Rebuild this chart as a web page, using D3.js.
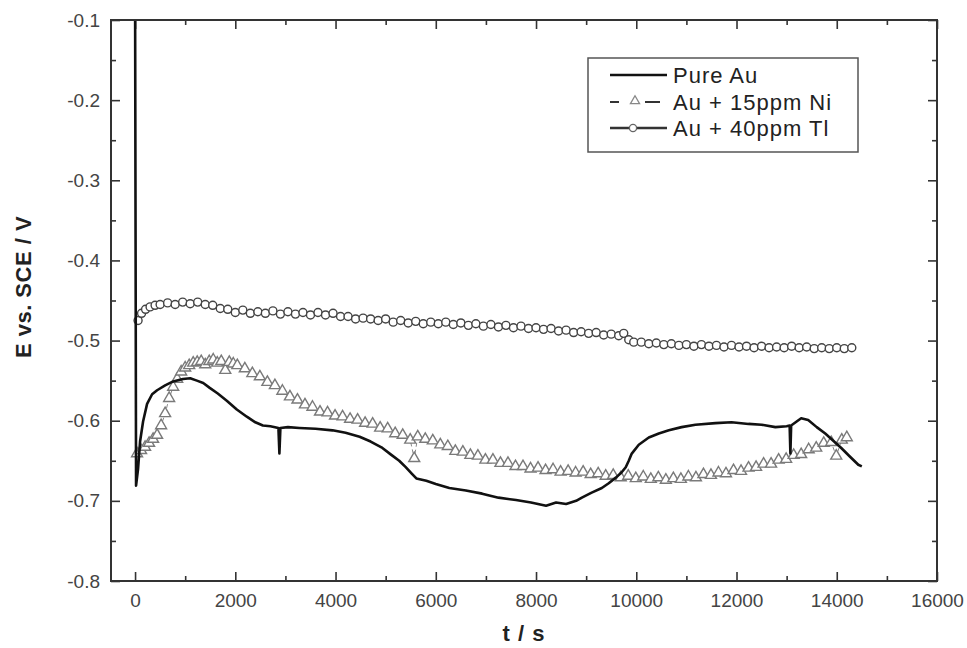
<!DOCTYPE html>
<html>
<head>
<meta charset="utf-8">
<script src="https://cdn.jsdelivr.net/npm/d3@7"></script>
<style>
  body { margin: 0; background: #fff; }
  text { font-family: "Liberation Sans", Arial, sans-serif; }
</style>
</head>
<body>
<svg width="967" height="648"></svg>
<script>
// [t (s), E (V)]
const pureAu = [
  [0, -0.05], [20, -0.681], [60, -0.66], [100, -0.626], [160, -0.601], [240, -0.579],
  [340, -0.567], [440, -0.562], [600, -0.556], [760, -0.551], [955, -0.548], [1100, -0.547],
  [1234, -0.550], [1360, -0.553], [1490, -0.559], [1650, -0.566], [1830, -0.575], [2030, -0.586],
  [2230, -0.595], [2400, -0.602], [2550, -0.606], [2700, -0.607], [2860, -0.609], [2880, -0.641],
  [2900, -0.609], [3050, -0.608], [3280, -0.609], [3600, -0.610], [3940, -0.612], [4200, -0.615],
  [4480, -0.620], [4700, -0.626], [4935, -0.634], [5100, -0.642], [5270, -0.650], [5400, -0.658],
  [5520, -0.666], [5612, -0.672], [5811, -0.675], [6000, -0.679], [6270, -0.684], [6600, -0.687],
  [6925, -0.691], [7250, -0.696], [7600, -0.699], [7900, -0.702], [8200, -0.706], [8400, -0.702],
  [8600, -0.704], [8800, -0.700], [8915, -0.696], [9100, -0.690], [9313, -0.684], [9450, -0.678],
  [9592, -0.671], [9700, -0.665], [9790, -0.658], [9850, -0.650], [9910, -0.641], [10050, -0.630],
  [10250, -0.621], [10450, -0.616], [10650, -0.612], [10905, -0.608], [11180, -0.605], [11580, -0.603],
  [11900, -0.602], [12240, -0.604], [12500, -0.605], [12775, -0.608], [13000, -0.607], [13060, -0.606],
  [13075, -0.641], [13090, -0.606], [13200, -0.601], [13290, -0.597], [13430, -0.599], [13600, -0.608],
  [13770, -0.616], [13930, -0.625], [14090, -0.634], [14250, -0.644], [14430, -0.655], [14500, -0.657]
];

const auNi = [
  [40, -0.641], [120, -0.637], [200, -0.633], [280, -0.628], [360, -0.623], [440, -0.618],
  [520, -0.606], [600, -0.591], [680, -0.572], [760, -0.558], [840, -0.548], [920, -0.539],
  [1000, -0.534], [1080, -0.531], [1160, -0.528], [1240, -0.527], [1320, -0.526], [1400, -0.530],
  [1480, -0.526], [1560, -0.524], [1640, -0.528], [1720, -0.526], [1800, -0.537], [1880, -0.527],
  [1960, -0.529], [2040, -0.531], [2190, -0.535], [2340, -0.541], [2490, -0.545], [2640, -0.552],
  [2790, -0.556], [2940, -0.563], [3090, -0.570], [3240, -0.574], [3390, -0.580], [3540, -0.583],
  [3690, -0.589], [3840, -0.590], [3990, -0.594], [4140, -0.595], [4290, -0.598], [4440, -0.599],
  [4590, -0.603], [4740, -0.604], [4890, -0.609], [5040, -0.610], [5190, -0.616], [5340, -0.618],
  [5490, -0.624], [5570, -0.647], [5640, -0.620], [5790, -0.623], [5940, -0.625], [6090, -0.630],
  [6240, -0.632], [6390, -0.638], [6540, -0.639], [6690, -0.643], [6840, -0.644], [6990, -0.649],
  [7140, -0.649], [7290, -0.653], [7440, -0.653], [7590, -0.657], [7740, -0.657], [7890, -0.660],
  [8040, -0.659], [8190, -0.662], [8340, -0.661], [8490, -0.664], [8640, -0.663], [8790, -0.665],
  [8940, -0.664], [9090, -0.667], [9240, -0.666], [9390, -0.669], [9540, -0.668], [9690, -0.671],
  [9840, -0.669], [9990, -0.672], [10140, -0.670], [10290, -0.673], [10440, -0.671], [10590, -0.674],
  [10740, -0.672], [10890, -0.673], [11040, -0.670], [11190, -0.671], [11340, -0.667], [11490, -0.668],
  [11640, -0.665], [11790, -0.666], [11940, -0.662], [12090, -0.663], [12240, -0.659], [12390, -0.658],
  [12540, -0.654], [12690, -0.654], [12840, -0.649], [12990, -0.648], [13140, -0.643], [13290, -0.642],
  [13440, -0.636], [13590, -0.634], [13740, -0.628], [13890, -0.627], [13990, -0.644], [14100, -0.624],
  [14200, -0.621]
];

const auTl = [
  [60, -0.475], [130, -0.466], [210, -0.461], [300, -0.458], [400, -0.456], [500, -0.455],
  [650, -0.453], [800, -0.455], [950, -0.452], [1100, -0.454], [1250, -0.452], [1400, -0.455],
  [1550, -0.456], [1700, -0.460], [1850, -0.461], [2000, -0.465], [2150, -0.462], [2300, -0.466],
  [2450, -0.464], [2600, -0.466], [2750, -0.463], [2900, -0.467], [3050, -0.464], [3200, -0.467],
  [3350, -0.465], [3500, -0.468], [3650, -0.465], [3800, -0.468], [3950, -0.466], [4100, -0.470],
  [4250, -0.470], [4400, -0.473], [4550, -0.472], [4700, -0.473], [4850, -0.475], [5000, -0.473],
  [5150, -0.477], [5300, -0.475], [5450, -0.478], [5600, -0.476], [5750, -0.479], [5900, -0.477],
  [6050, -0.479], [6200, -0.477], [6350, -0.480], [6500, -0.478], [6650, -0.481], [6800, -0.479],
  [6950, -0.482], [7100, -0.480], [7250, -0.483], [7400, -0.481], [7550, -0.484], [7700, -0.482],
  [7850, -0.485], [8000, -0.484], [8150, -0.486], [8300, -0.485], [8450, -0.488], [8600, -0.487],
  [8750, -0.490], [8900, -0.489], [9050, -0.491], [9200, -0.490], [9350, -0.493], [9500, -0.492],
  [9650, -0.494], [9750, -0.491], [9850, -0.499], [9950, -0.502], [10100, -0.502], [10250, -0.504],
  [10400, -0.503], [10550, -0.505], [10700, -0.504], [10850, -0.506], [11000, -0.505], [11150, -0.507],
  [11300, -0.505], [11450, -0.507], [11600, -0.506], [11750, -0.508], [11900, -0.506], [12050, -0.508],
  [12200, -0.507], [12350, -0.509], [12500, -0.507], [12650, -0.509], [12800, -0.508], [12950, -0.509],
  [13100, -0.507], [13250, -0.509], [13400, -0.508], [13550, -0.510], [13700, -0.509], [13850, -0.510],
  [14000, -0.509], [14150, -0.510], [14300, -0.509]
];

const xTicks = [0, 2000, 4000, 6000, 8000, 10000, 12000, 14000, 16000];
const xMinor = [1000, 3000, 5000, 7000, 9000, 11000, 13000, 15000];
const yTicks = [-0.8, -0.7, -0.6, -0.5, -0.4, -0.3, -0.2, -0.1];
const yMinor = [-0.75, -0.65, -0.55, -0.45, -0.35, -0.25, -0.15];
const seriesNames = ["Pure Au", "Au + 15ppm Ni", "Au + 40ppm Tl"];

var svg = d3.select("svg");
var width = +svg.attr("width");
var height = +svg.attr("height");
var margin = { top: 20, right: 30, bottom: 67, left: 111 };
var innerWidth = width - margin.left - margin.right;
var innerHeight = height - margin.top - margin.bottom;

const xScale = d3.scaleLinear().domain([-480, 16000]).range([0, innerWidth]);
const yScale = d3.scaleLinear().domain([-0.8, -0.1]).range([innerHeight, 0]);

const g = svg.append("g")
  .attr("transform", `translate(${margin.left}, ${margin.top})`);

g.append("clipPath").attr("id", "clip")
  .append("rect").attr("width", innerWidth).attr("height", innerHeight);

// inward ticks on all four sides
const tickStyle = (sel) => {
  sel.select(".domain").remove();
  sel.selectAll("line").attr("stroke", "#333").attr("stroke-width", 1.6);
};
const bare = (sel) => {
  tickStyle(sel);
  sel.selectAll("text").remove();
};

g.append("g").attr("transform", `translate(0, ${innerHeight})`)
  .call(d3.axisBottom(xScale).tickValues(xTicks).tickSize(-9).tickFormat((d) => String(d)))
  .call(tickStyle)
  .call((a) => a.selectAll("text").attr("y", 13).attr("dy", "0.71em")
    .attr("font-size", 19).attr("fill", "#444"));
g.append("g").attr("transform", `translate(0, ${innerHeight})`)
  .call(d3.axisBottom(xScale).tickValues(xMinor).tickSize(-5))
  .call(bare);
g.append("g")
  .call(d3.axisTop(xScale).tickValues(xTicks).tickSize(-9))
  .call(bare);
g.append("g")
  .call(d3.axisTop(xScale).tickValues(xMinor).tickSize(-5))
  .call(bare);
g.append("g")
  .call(d3.axisLeft(yScale).tickValues(yTicks).tickSize(-9).tickFormat((d) => d.toFixed(1)))
  .call(tickStyle)
  .call((a) => a.selectAll("text").attr("x", -11)
    .attr("font-size", 19).attr("fill", "#444"));
g.append("g")
  .call(d3.axisLeft(yScale).tickValues(yMinor).tickSize(-5))
  .call(bare);
g.append("g").attr("transform", `translate(${innerWidth}, 0)`)
  .call(d3.axisRight(yScale).tickValues(yTicks).tickSize(-9))
  .call(bare);
g.append("g").attr("transform", `translate(${innerWidth}, 0)`)
  .call(d3.axisRight(yScale).tickValues(yMinor).tickSize(-5))
  .call(bare);

const line = d3.line().x((d) => xScale(d[0])).y((d) => yScale(d[1]));
const plot = g.append("g").attr("clip-path", "url(#clip)");

// Au + 40ppm Tl : circles
plot.append("path").datum(auTl).attr("d", line)
  .attr("fill", "none").attr("stroke", "#555").attr("stroke-width", 1);
plot.selectAll(".tl").data(auTl).enter().append("circle")
  .attr("class", "tl")
  .attr("cx", (d) => xScale(d[0])).attr("cy", (d) => yScale(d[1]))
  .attr("r", 4).attr("fill", "#fff").attr("stroke", "#444").attr("stroke-width", 1.4);

// Au + 15ppm Ni : open triangles
plot.append("path").datum(auNi).attr("d", line)
  .attr("fill", "none").attr("stroke", "#888").attr("stroke-width", 1)
  .attr("stroke-dasharray", "4,3");
plot.selectAll(".ni").data(auNi).enter().append("path")
  .attr("class", "ni")
  .attr("d", d3.symbol().type(d3.symbolTriangle).size(52))
  .attr("transform", (d) => `translate(${xScale(d[0])}, ${yScale(d[1])})`)
  .attr("fill", "#fff").attr("stroke", "#7a7a7a").attr("stroke-width", 1.4);

// Pure Au : solid line
plot.append("path").datum(pureAu).attr("d", line)
  .attr("fill", "none").attr("stroke", "#111").attr("stroke-width", 2.6)
  .attr("stroke-linejoin", "round");

// frame
g.append("rect").attr("width", innerWidth).attr("height", innerHeight)
  .attr("fill", "none").attr("stroke", "#333").attr("stroke-width", 2);

// axis titles
svg.append("text")
  .attr("x", margin.left + innerWidth / 2).attr("y", 641)
  .attr("text-anchor", "middle").attr("font-size", 22).attr("font-weight", "bold")
  .attr("letter-spacing", 1).attr("fill", "#222")
  .text("t / s");
svg.append("text")
  .attr("transform", "translate(31, 287) rotate(-90)")
  .attr("text-anchor", "middle").attr("font-size", 22).attr("font-weight", "bold")
  .attr("letter-spacing", 0.5).attr("fill", "#222")
  .text("E vs. SCE / V");

// legend
const legend = svg.append("g").attr("transform", "translate(588, 58)");
legend.append("rect").attr("width", 270).attr("height", 94)
  .attr("fill", "#fff").attr("stroke", "#555").attr("stroke-width", 1.5);
const rowY = [17, 44, 70];
legend.selectAll(".lbl").data(seriesNames).enter().append("text")
  .attr("class", "lbl")
  .attr("x", 85).attr("y", (d, i) => rowY[i]).attr("dy", "0.36em")
  .attr("font-size", 22).attr("letter-spacing", 1).attr("fill", "#222")
  .text((d) => d);
legend.append("line").attr("x1", 22).attr("x2", 79).attr("y1", rowY[0]).attr("y2", rowY[0])
  .attr("stroke", "#111").attr("stroke-width", 2.6);
legend.append("line").attr("x1", 22).attr("x2", 31).attr("y1", rowY[1]).attr("y2", rowY[1])
  .attr("stroke", "#333").attr("stroke-width", 2);
legend.append("line").attr("x1", 57).attr("x2", 72).attr("y1", rowY[1]).attr("y2", rowY[1])
  .attr("stroke", "#333").attr("stroke-width", 2);
legend.append("path")
  .attr("d", d3.symbol().type(d3.symbolTriangle).size(36))
  .attr("transform", `translate(47, ${rowY[1] - 1})`)
  .attr("fill", "#fff").attr("stroke", "#888").attr("stroke-width", 1.3);
legend.append("line").attr("x1", 22).attr("x2", 79).attr("y1", rowY[2]).attr("y2", rowY[2])
  .attr("stroke", "#333").attr("stroke-width", 2.4);
legend.append("circle").attr("cx", 45).attr("cy", rowY[2]).attr("r", 3.6)
  .attr("fill", "#fff").attr("stroke", "#666").attr("stroke-width", 1.3);
</script>
</body>
</html>
